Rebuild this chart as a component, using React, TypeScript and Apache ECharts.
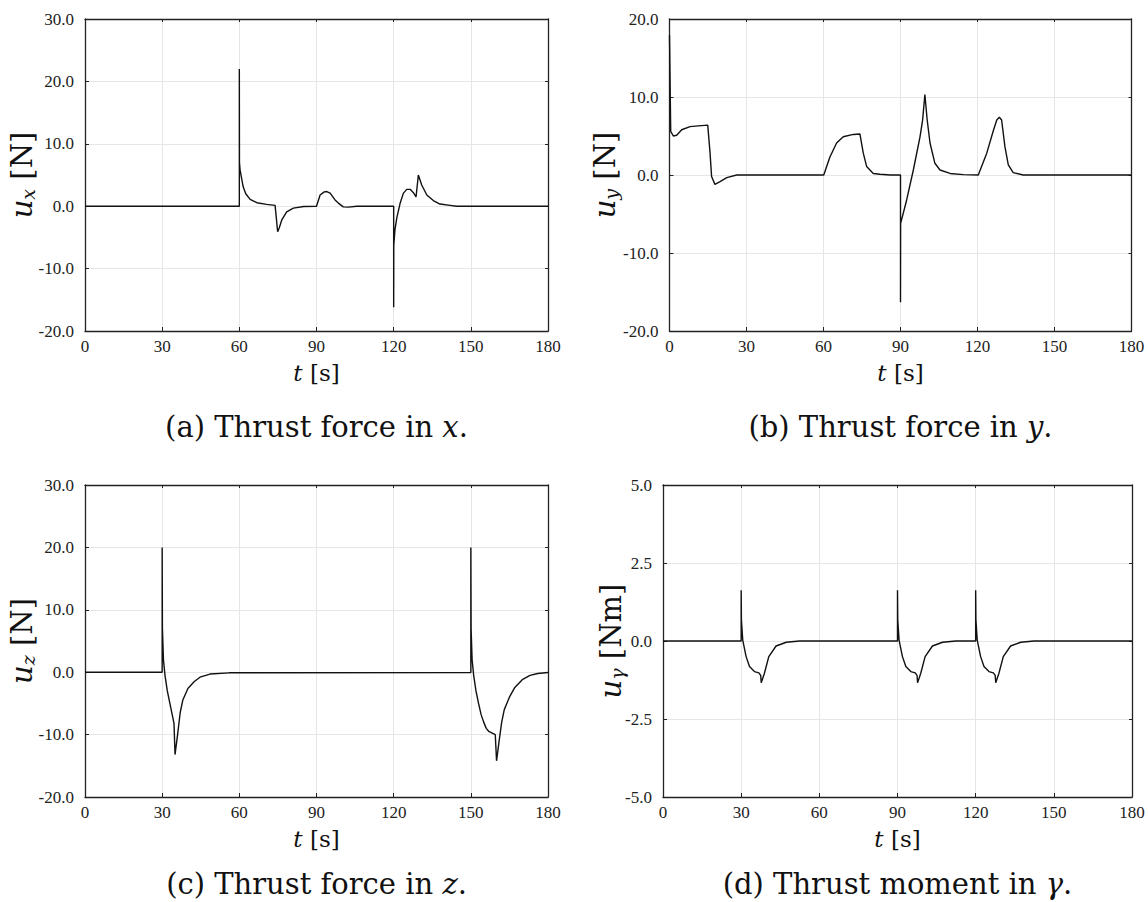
import React, { useEffect, useRef } from 'react';
import * as echarts from 'echarts';

// time axis ticks (s)
const tTicks = [0, 30, 60, 90, 120, 150, 180];

// (a) thrust force in x [N]: [t, u_x]
const uxData: number[][] = [
  [0, 0], [60, 0], [60, 22], [60.05, 7], [60.3, 5.8], [61.5, 3.1], [62.5, 2.0], [64.2, 1.1], [66.8, 0.56],
  [70.6, 0.3], [73.9, 0.14], [74.9, -4.1], [75.5, -3.5], [76.5, -2.2], [78.4, -0.9], [81, -0.3], [85, -0.05],
  [90, 0], [91.4, 1.8], [93, 2.3], [94, 2.35], [95.3, 2.1], [97.2, 1.0], [98.5, 0.5], [100.4, -0.1],
  [102.4, -0.15], [105.6, 0], [120, 0], [120, -16.2], [120.05, -6.2], [120.5, -3.8], [121.2, -1.9],
  [122.5, 0.46], [123.8, 2.1], [125.1, 2.7], [126.4, 2.7], [127.6, 2.2], [128.7, 1.5], [129.6, 5.0],
  [130.9, 3.4], [132.9, 1.8], [135.4, 0.9], [138, 0.35], [141.9, 0.14], [144.5, 0], [180, 0],
];

// (b) thrust force in y [N]
const uyData: number[][] = [
  [0, 17.9], [0.47, 5.6], [1.5, 5.0], [2.8, 5.1], [4.75, 5.8], [8, 6.2], [11.2, 6.3], [14.9, 6.4],
  [15.8, 2.8], [16.4, -0.2], [17.7, -1.2], [19.7, -0.86], [22.3, -0.34], [26.2, 0], [60.1, 0],
  [62.5, 2.3], [65.1, 4.1], [67.7, 4.9], [71.6, 5.2], [74.2, 5.25], [75.5, 2.8], [76.8, 1.1],
  [79.4, 0.2], [82, 0.1], [86, 0], [90, 0], [90, -16.3], [90.05, -6.2], [92.4, -3.2], [95, 0.64],
  [97.6, 4.9], [98.6, 7.0], [99.5, 10.3], [100.4, 7.05], [101.5, 4.1], [103.4, 1.5], [105.4, 0.64],
  [109.3, 0.2], [114.5, 0.05], [120.3, 0], [123.6, 2.8], [126.1, 5.6], [127.5, 7.05], [128.5, 7.4],
  [129.4, 7.05], [130.7, 3.6], [132, 1.3], [133.9, 0.3], [137.8, 0], [180, 0],
];

// (c) thrust force in z [N]
const uzData: number[][] = [
  [0, 0], [30, 0], [30, 20], [30.1, 7], [30.5, 2], [31.1, -0.5], [32, -3], [33, -5], [34, -7],
  [34.6, -8.2], [35, -13.2], [36, -10], [37, -6.5], [38, -4.5], [40, -2.6], [42.5, -1.5], [44.7, -0.8],
  [48.6, -0.3], [56, -0.1], [150, -0.05], [150, 20], [150.1, 7], [150.5, 2], [151.1, -0.5], [152, -3],
  [153, -5], [154, -6.8], [155, -8], [156, -9], [157, -9.5], [158.5, -9.8], [159.5, -10], [160, -14.2],
  [161, -11], [162, -8], [163, -6], [165, -4], [167, -2.5], [170, -1.2], [173, -0.5], [176, -0.2],
  [180, -0.05],
];

// (d) thrust moment in gamma [Nm]
const ugData: number[][] = [
  [0, 0], [30, 0], [30, 1.63], [30.1, 0.67], [30.6, 0.03], [31.9, -0.5], [33.2, -0.82], [35.1, -0.98],
  [36.8, -1.02], [37.5, -1.1], [37.7, -1.34], [38.9, -1.04], [40.6, -0.5], [43.4, -0.16], [47.3, -0.04],
  [52.4, 0], [90, 0], [90, 1.63], [90.1, 0.67], [90.6, 0.03], [91.9, -0.5], [93.2, -0.82], [95.1, -0.98],
  [96.8, -1.02], [97.5, -1.1], [97.7, -1.34], [98.9, -1.04], [100.6, -0.5], [103.4, -0.16], [107.3, -0.04],
  [112.4, 0], [120, 0], [120, 1.63], [120.1, 0.67], [120.6, 0.03], [121.9, -0.5], [123.2, -0.82],
  [125.1, -0.98], [126.8, -1.02], [127.5, -1.1], [127.7, -1.34], [128.9, -1.04], [130.6, -0.5],
  [133.4, -0.16], [137.3, -0.04], [142.4, 0], [180, 0],
];

const yRanges = [
  { min: -20, max: 30, interval: 10 },
  { min: -20, max: 20, interval: 10 },
  { min: -20, max: 30, interval: 10 },
  { min: -5, max: 5, interval: 2.5 },
];
const yNames = [
  { sub: 'x', unit: '[N]' },
  { sub: 'y', unit: '[N]' },
  { sub: 'z', unit: '[N]' },
  { sub: 'γ', unit: '[Nm]' },
];
const captions = [
  { tag: '(a) Thrust force in ', v: 'x' },
  { tag: '(b) Thrust force in ', v: 'y' },
  { tag: '(c) Thrust force in ', v: 'z' },
  { tag: '(d) Thrust moment in ', v: 'γ' },
];
const seriesData = [uxData, uyData, uzData, ugData];

const grids = [
  { left: 85, top: 19, width: 463, height: 312 },
  { left: 669.5, top: 19, width: 462, height: 312 },
  { left: 85, top: 485, width: 463, height: 312 },
  { left: 663, top: 485, width: 469, height: 312 },
];
const captionGap = [96, 96, 87, 87];

const FONT = 'Liberation Serif';
const CAPFONT = 'DejaVu Serif';
const AX = '#222';

export default function App() {
  const ref = useRef<HTMLDivElement>(null);
  useEffect(() => {
    if (!ref.current) return;
    const chart = echarts.init(ref.current, undefined, { renderer: 'svg' });
    const xAxis: any[] = [];
    const yAxis: any[] = [];
    const series: any[] = [];
    const graphic: any[] = [];
    grids.forEach((g, i) => {
      const yr = yRanges[i];
      xAxis.push({
        gridIndex: i, type: 'value', min: tTicks[0], max: tTicks[tTicks.length - 1], interval: 30,
        position: 'bottom',
        axisLine: { onZero: false, lineStyle: { color: AX, width: 1.3 } },
        axisTick: { inside: true, length: 4, lineStyle: { color: AX } },
        axisLabel: { margin: 7, fontFamily: FONT, fontSize: 17, color: AX },
        splitLine: { show: true, lineStyle: { color: '#e6e6e6', width: 1 } },
      });
      xAxis.push({
        gridIndex: i, type: 'value', min: tTicks[0], max: tTicks[tTicks.length - 1], interval: 30,
        position: 'top',
        axisLine: { show: true, onZero: false, lineStyle: { color: AX, width: 1.3 } },
        axisTick: { show: true, inside: true, length: 3, lineStyle: { color: AX } },
        axisLabel: { show: false },
        splitLine: { show: false },
      });
      yAxis.push({
        gridIndex: i, type: 'value', min: yr.min, max: yr.max, interval: yr.interval,
        position: 'left',
        axisLine: { show: true, onZero: false, lineStyle: { color: AX, width: 1.3 } },
        axisTick: { show: true, inside: true, length: 4, lineStyle: { color: AX } },
        axisLabel: { margin: 11, fontFamily: FONT, fontSize: 17, color: AX, formatter: (v: number) => v.toFixed(1) },
        splitLine: { show: true, lineStyle: { color: '#e6e6e6', width: 1 } },
      });
      yAxis.push({
        gridIndex: i, type: 'value', min: yr.min, max: yr.max, interval: yr.interval,
        position: 'right',
        axisLine: { show: true, onZero: false, lineStyle: { color: AX, width: 1.3 } },
        axisTick: { show: true, inside: true, length: 3, lineStyle: { color: AX } },
        axisLabel: { show: false },
        splitLine: { show: false },
      });
      series.push({
        type: 'line', xAxisIndex: 2 * i, yAxisIndex: 2 * i, data: seriesData[i],
        symbol: 'none', showSymbol: false, lineStyle: { color: '#111', width: 1.4 },
        z: 5,
      });
      const cx = g.left + g.width / 2;
      const bottom = g.top + g.height;
      // x-axis name t [s]
      graphic.push({
        type: 'text', x: cx, y: bottom + 42,
        style: {
          text: '{i|t} {n|[s]}', fontFamily: CAPFONT, fontSize: 23, fill: '#111',
          align: 'center', verticalAlign: 'middle', textAlign: 'center', textVerticalAlign: 'middle',
          rich: {
            i: { fontFamily: CAPFONT, fontSize: 23, fontStyle: 'italic', fill: '#111' },
            n: { fontFamily: CAPFONT, fontSize: 23, fill: '#111' },
          },
        },
      });
      // y-axis name
      const nx = i % 2 === 0 ? 22 : (i === 1 ? 605 : 611);
      graphic.push({
        type: 'text', x: nx, y: g.top + g.height / 2, rotation: Math.PI / 2,
        style: {
          text: `{i|u}{s|${yNames[i].sub}}{n| ${yNames[i].unit}}`, fontFamily: CAPFONT, fontSize: 29, fill: '#111',
          align: 'center', verticalAlign: 'middle', textAlign: 'center', textVerticalAlign: 'middle',
          rich: {
            i: { fontFamily: CAPFONT, fontSize: 29, fontStyle: 'italic', fill: '#111', lineHeight: 30 },
            s: { fontFamily: CAPFONT, fontSize: 19, fontStyle: 'italic', fill: '#111', verticalAlign: 'bottom', lineHeight: 30, padding: [10, 0, 0, 0] },
            n: { fontFamily: CAPFONT, fontSize: 29, fill: '#111', lineHeight: 30 },
          },
        },
      });
      // caption
      graphic.push({
        type: 'text', x: cx, y: bottom + captionGap[i],
        style: {
          text: `{n|${captions[i].tag}}{i|${captions[i].v}}{n|.}`, fontFamily: CAPFONT, fontSize: 29, fill: '#111',
          align: 'center', verticalAlign: 'middle', textAlign: 'center', textVerticalAlign: 'middle',
          rich: {
            n: { fontFamily: CAPFONT, fontSize: 29, fill: '#111', lineHeight: 28 },
            i: { fontFamily: CAPFONT, fontSize: 29, fontStyle: 'italic', fill: '#111', lineHeight: 28 },
          },
        },
      });
    });
    chart.setOption({
      animation: false,
      backgroundColor: '#fff',
      grid: grids.map((g) => ({ ...g, containLabel: false })),
      xAxis, yAxis, series, graphic,
    });
    return () => chart.dispose();
  }, []);
  return <div ref={ref} style={{ position: 'fixed', left: 0, top: 0, width: 1148, height: 902 }} />;
}
